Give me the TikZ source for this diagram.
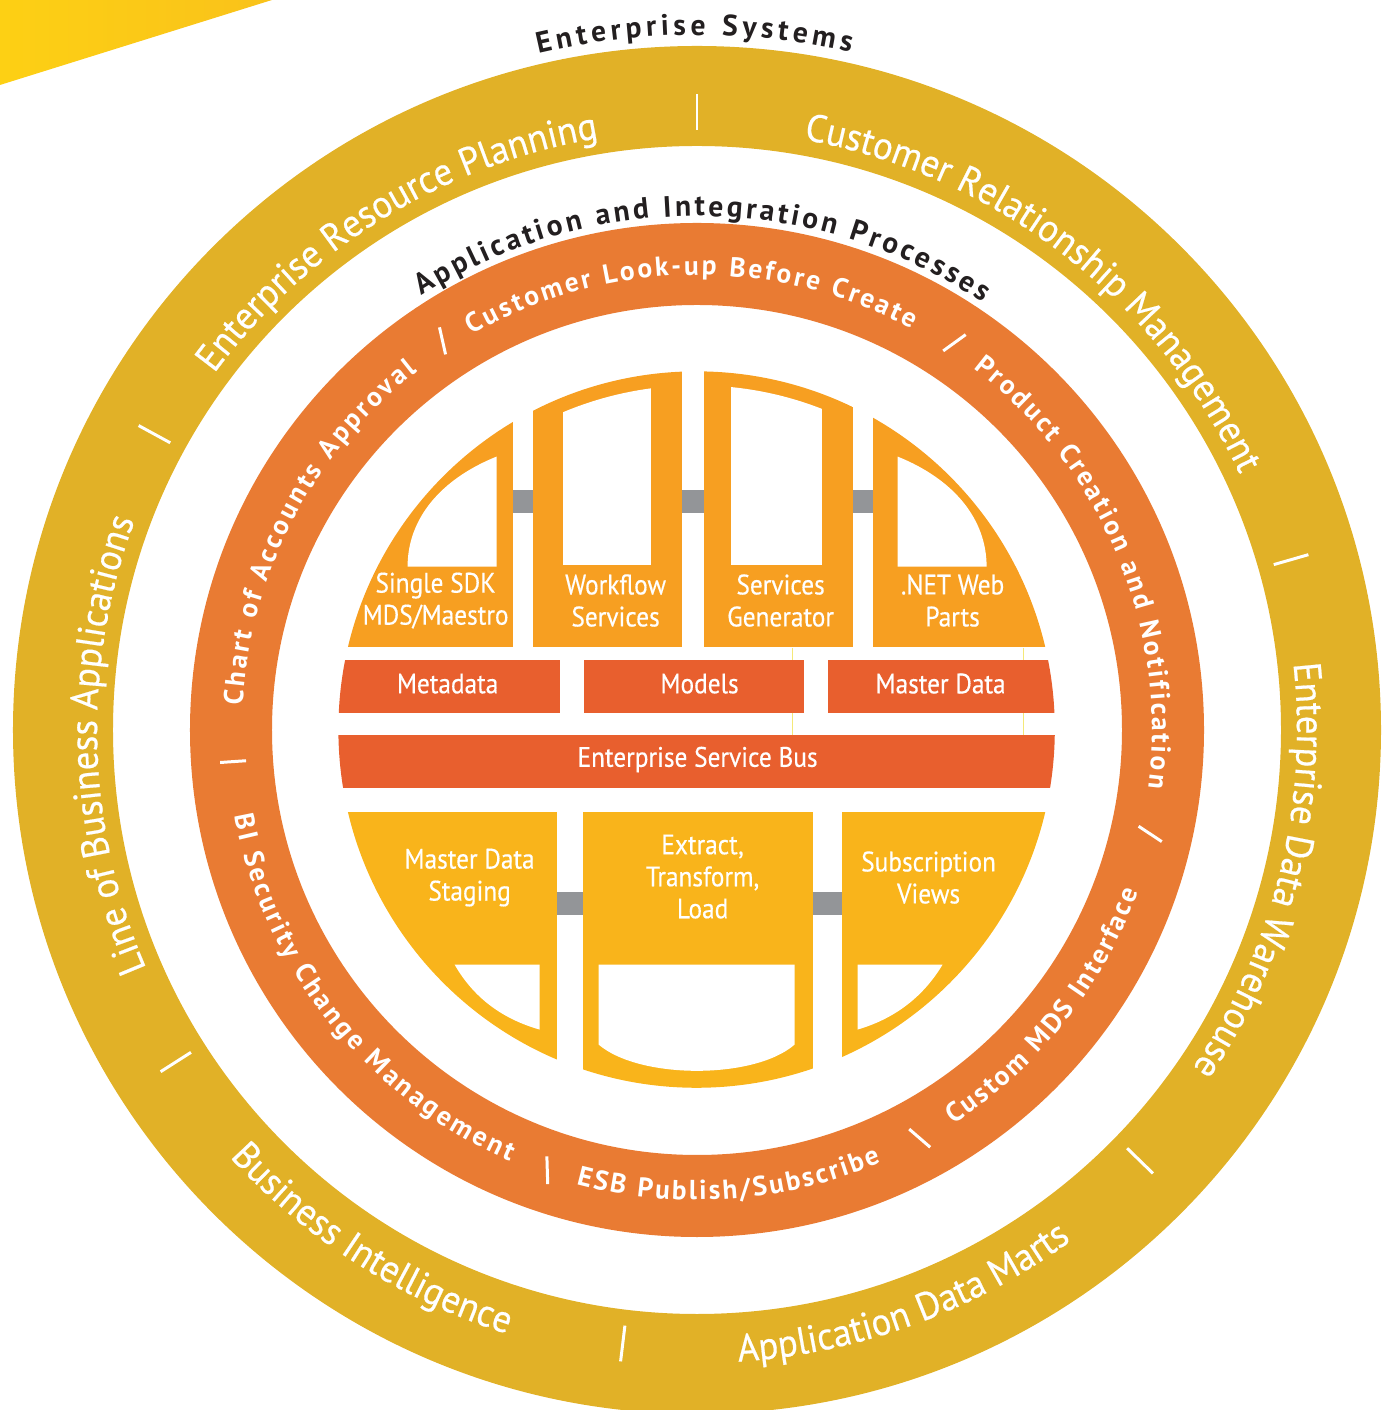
\documentclass[tikz,border=0pt]{standalone}
\usepackage{fontspec}
\setmainfont{PT Sans}
\newfontfamily\boxfont[FakeStretch=0.9, FakeBold=0.4]{PT Sans}
\newfontfamily\ringfont[FakeStretch=0.95, FakeBold=0.5]{PT Sans}
\usetikzlibrary{decorations.text}
\definecolor{corneryellow}{RGB}{253,208,20}
\definecolor{cornerorange}{RGB}{249,194,26}
\definecolor{systemring}{RGB}{225,177,39}
\definecolor{processring}{RGB}{233,123,51}
\definecolor{topfill}{RGB}{247,159,33}
\definecolor{barfill}{RGB}{232,95,46}
\definecolor{lowfill}{RGB}{249,180,27}
\definecolor{linkgray}{RGB}{147,149,152}
\definecolor{guideyellow}{RGB}{244,232,120}
\definecolor{headblack}{RGB}{35,31,32}
\tikzset{
  basebox/.style={rectangle, inner sep=0pt, outer sep=0pt},
  topbox/.style={basebox, fill=topfill, minimum width=#1, minimum height=2.87cm},
  barbox/.style={basebox, fill=barfill, minimum width=#1, minimum height=0.53cm},
  lowbox/.style={basebox, fill=lowfill, minimum width=#1, minimum height=2.87cm},
  lbl/.style={text=white, align=center, inner sep=0pt, font=\boxfont\fontsize{8}{9.1}\selectfont},
  link/.style={linkgray, line width=0.23cm},
  guide/.style={guideyellow, line width=0.4pt},
  sep/.style={white, line width=0.85pt},
  ringtext/.style={decorate, decoration={text along path, text align=center, text color=white,
      text={|\ringfont\fontsize{11}{13}\selectfont|#1}}},
  proctext/.style={decorate, decoration={text along path, text align=fit to path, text color=white,
      text={|\bfseries\fontsize{7.8}{9}\selectfont|#1}}},
  headtext/.style={decorate, decoration={text along path, text align=fit to path, text color=headblack,
      text={|\bfseries\fontsize{8.4}{10}\selectfont|#1}}}
}
\begin{document}
\begin{tikzpicture}[x=0.01cm, y=0.01cm]
  \useasboundingbox (-697,-680) rectangle (693,730);
  % corner band
  \shade[left color=corneryellow, right color=cornerorange] (-697,730) -- (-425,730) -- (-697,645) -- cycle;
  % rings
  \fill[systemring, even odd rule] (0,0) circle[radius=684] (0,0) circle[radius=584];
  \fill[processring, even odd rule] (0,0) circle[radius=507] (0,0) circle[radius=425];

  % inner blocks, drawn in pixel frame
  \begin{scope}[shift={(-6.97cm,7.30cm)}, y=-0.01cm]
    \draw[guide] (793,648) -- (793,735);
    \draw[guide] (1024,648) -- (1024,735);
    \begin{scope}
      \clip (697,730) circle[radius=3.58cm];
      \node[topbox=1.83cm] (sdk) at (421.5,503.5) {};
      \node[topbox=1.49cm] (wf) at (607.5,503.5) {};
      \node[topbox=1.49cm] (sg) at (778.5,503.5) {};
      \node[topbox=1.97cm] (net) at (971.5,503.5) {};
      \node[barbox=2.30cm] (meta) at (445,686.5) {};
      \node[barbox=2.20cm] (mdl) at (694,686.5) {};
      \node[barbox=2.42cm] (mst) at (949,686.5) {};
      \node[barbox=7.40cm] (esb) at (700,761.5) {};
      \node[lowbox=2.27cm] (stg) at (443.5,956.5) {};
      \node[lowbox=2.30cm] (etl) at (698,956.5) {};
      \node[lowbox=2.28cm] (sub) at (956,956.5) {};
    \end{scope}
    % windows
    \begin{scope}
      \clip (697,730) circle[radius=3.44cm];
      \fill[white] (563,360) rectangle (651,565);
      \fill[white] (731,360) rectangle (822,565);
    \end{scope}
    \fill[white] (497,457) -- (497,567) -- (408,567) .. controls (408,520) and (440,480) .. (497,457) -- cycle;
    \fill[white] (898,457) -- (898,567) -- (987,567) .. controls (987,520) and (955,480) .. (898,457) -- cycle;
    \fill[white] (455,965) -- (540,965) -- (540,1030) .. controls (505,1020) and (475,1000) .. (455,965) -- cycle;
    \fill[white] (943,965) -- (858,965) -- (858,1030) .. controls (892,1020) and (922,1000) .. (943,965) -- cycle;
    \fill[white] (599,965) -- (795,965) -- (795,1045) .. controls (755,1080) and (640,1080) .. (599,1045) -- cycle;
    % links
    \coordinate (gtop) at (0,501.5);
    \coordinate (glow) at (0,904);
    \draw[link] (sdk.east |- gtop) -- (wf.west |- gtop);
    \draw[link] (wf.east |- gtop) -- (sg.west |- gtop);
    \draw[link] (sg.east |- gtop) -- (net.west |- gtop);
    \draw[link] (stg.east |- glow) -- (etl.west |- glow);
    \draw[link] (etl.east |- glow) -- (sub.west |- glow);
    % labels
    \node[lbl] (sdk-t) at (436,601) {Single SDK\\MDS/Maestro};
    \node[lbl] (wf-t) at (616,601) {Workflow\\Services};
    \node[lbl] (sg-t) at (781,601) {Services\\Generator};
    \node[lbl] (net-t) at (953,601) {.NET Web\\Parts};
    \node[lbl] (meta-t) at (448,684) {Metadata};
    \node[lbl] (mdl-t) at (700,684) {Models};
    \node[lbl] (mst-t) at (941,684) {Master Data};
    \node[lbl] (esb-t) at (698,760) {Enterprise Service Bus};
    \node[lbl] (stg-t) at (470,878) {Master Data\\Staging};
    \node[lbl] (etl-t) at (703,877) {Extract,\\Transform,\\Load};
    \node[lbl] (sub-t) at (929,878) {Subscription\\Views};
  \end{scope}

  % outer ring labels
  \path[ringtext={Enterprise Resource Planning}] (146:600) arc[start angle=146, end angle=97, radius=600];
  \path[ringtext={Customer Relationship Management}] (82:600) arc[start angle=82, end angle=23, radius=600];
  \path[ringtext={Enterprise Data Warehouse}] (10:600) arc[start angle=10, end angle=-38, radius=600];
  \path[ringtext={Line of Business Applications}] (206:600) arc[start angle=206, end angle=157, radius=600];
  \path[ringtext={Business Intelligence}] (218:633) arc[start angle=218, end angle=257, radius=633];
  \path[ringtext={Application Data Marts}] (269:633) arc[start angle=269, end angle=311, radius=633];
  % process ring labels
  \path[proctext={Customer Look-up Before Create}] (119.7:455) arc[start angle=119.7, end angle=61.8, radius=455];
  \path[proctext={Product Creation and Notification}] (52.6:455) arc[start angle=52.6, end angle=-7.3, radius=455];
  \path[proctext={Chart of Accounts Approval}] (176.9:455) arc[start angle=176.9, end angle=127.9, radius=455];
  \path[proctext={BI Security Change Management}] (190.5:470) arc[start angle=190.5, end angle=246.5, radius=470];
  \path[proctext={ESB Publish/Subscribe}] (255.1:470) arc[start angle=255.1, end angle=293.1, radius=470];
  \path[proctext={Custom MDS Interface}] (303:470) arc[start angle=303, end angle=339.9, radius=470];
  % headings
  \path[headtext={Enterprise Systems}] (103.2:695) arc[start angle=103.2, end angle=77.2, radius=695];
  \path[headtext={Application and Integration Processes}] (122.4:514) arc[start angle=122.4, end angle=56.3, radius=514];

  % separators
  \draw[sep] (90:600) -- (90:636);
  \draw[sep] (151.4:600) -- (151.4:636);
  \draw[sep] (212.5:600) -- (212.5:636);
  \draw[sep] (263.1:600) -- (263.1:636);
  \draw[sep] (315.8:600) -- (315.8:636);
  \draw[sep] (16:600) -- (16:636);
  \draw[sep] (123.8:452) -- (122.6:478);
  \draw[sep] (57:452) -- (55.8:478);
  \draw[sep] (347.7:452) -- (346.5:478);
  \draw[sep] (298:452) -- (299.2:478);
  \draw[sep] (250.6:452) -- (251.8:478);
  \draw[sep] (183.9:452) -- (183.9:478);
\end{tikzpicture}
\end{document}
